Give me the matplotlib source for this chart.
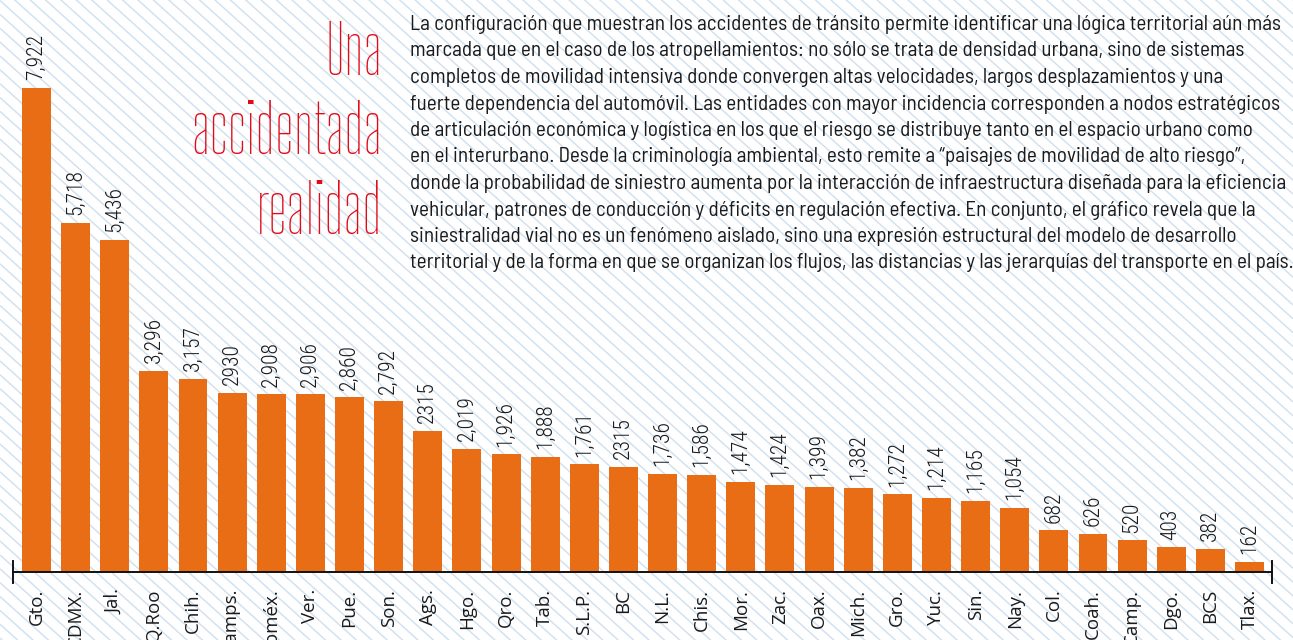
import matplotlib
matplotlib.use("Agg")
import matplotlib.pyplot as plt
from matplotlib.transforms import blended_transform_factory
import numpy as np

# ---------------------------------------------------------------------------
# data
# ---------------------------------------------------------------------------
states = ["Gto.", "CDMX.", "Jal.", "Q.Roo", "Chih.", "Tamps.", "Edoméx.", "Ver.",
          "Pue.", "Son.", "Ags.", "Hgo.", "Qro.", "Tab.", "S.L.P.", "BC",
          "N.L.", "Chis.", "Mor.", "Zac.", "Oax.", "Mich.", "Gro.", "Yuc.",
          "Sin.", "Nay.", "Col.", "Coah.", "Camp.", "Dgo.", "BCS", "Tlax."]

# bar heights as drawn in the source graphic
accidents = [7922, 5718, 5436, 3296, 3157, 2930, 2908, 2906,
             2860, 2792, 2315, 2019, 1926, 1888, 1761, 1725,
             1605, 1586, 1474, 1424, 1399, 1382, 1272, 1214,
             1165, 1054, 682, 626, 520, 403, 382, 162]

# value labels as printed in the source graphic
value_labels = ["7,922", "5,718", "5,436", "3,296", "3,157", "2930", "2,908", "2,906",
                "2,860", "2,792", "2315", "2,019", "1,926", "1,888", "1,761", "2315",
                "1,736", "1,586", "1,474", "1,424", "1,399", "1,382", "1,272", "1,214",
                "1,165", "1,054", "682", "626", "520", "403", "382", "162"]

title_lines = ["Una", "accidentada", "realidad"]

body_lines = [
    "La configuración que muestran los accidentes de tránsito permite identificar una lógica territorial aún más",
    "marcada que en el caso de los atropellamientos: no sólo se trata de densidad urbana, sino de sistemas",
    "completos de movilidad intensiva donde convergen altas velocidades, largos desplazamientos y una",
    "fuerte dependencia del automóvil. Las entidades con mayor incidencia corresponden a nodos estratégicos",
    "de articulación económica y logística en los que el riesgo se distribuye tanto en el espacio urbano como",
    "en el interurbano. Desde la criminología ambiental, esto remite a “paisajes de movilidad de alto riesgo”,",
    "donde la probabilidad de siniestro aumenta por la interacción de infraestructura diseñada para la eficiencia",
    "vehicular, patrones de conducción y déficits en regulación efectiva. En conjunto, el gráfico revela que la",
    "siniestralidad vial no es un fenómeno aislado, sino una expresión estructural del modelo de desarrollo",
    "territorial y de la forma en que se organizan los flujos, las distancias y las jerarquías del transporte en el país.",
]

# ---------------------------------------------------------------------------
# style
# ---------------------------------------------------------------------------
W, H = 1293, 640
orange = "#E86D15"
red = "#E30A17"
ink = "#1a1a1a"
hatch_color = "#d2e2ef"

title_font = ["Big Shoulders Display", "Saira ExtraCondensed", "DejaVu Sans"]
body_font = ["Barlow Semi Condensed", "Roboto Condensed", "DejaVu Sans"]
num_font = ["Roboto Condensed", "DejaVu Sans"]
tick_font = ["Open Sans", "DejaVu Sans"]

fig = plt.figure(figsize=(W / 100, H / 100), dpi=100)
fig.patch.set_facecolor("white")

# background with diagonal stripes, in pixel coordinates
bg = fig.add_axes([0, 0, 1, 1], zorder=0)
bg.set_xlim(0, W)
bg.set_ylim(H, 0)
bg.axis("off")
slope = 0.9
step = 15.4
for c in np.arange(-slope * W, H + step, step * slope):
    bg.plot([0, W], [c, c + slope * W], color=hatch_color, lw=1.1, solid_capstyle="butt")

renderer = fig.canvas.get_renderer()


def fit(txt, target_w):
    w = txt.get_window_extent(renderer).width
    txt.set_fontsize(txt.get_fontsize() * target_w / w)


# title
title_base = [75, 154, 234]
t_probe = bg.text(383, 154, "accidentada", family=title_font, fontweight="normal",
                  fontsize=50, color=red, ha="right", va="baseline")
fit(t_probe, 190)
tsize = t_probe.get_fontsize()
t_probe.remove()
for line, yb in zip(title_lines, title_base):
    bg.text(383, yb, line, family=title_font, fontweight="normal", fontsize=tsize,
            color=red, ha="right", va="baseline")

# paragraph
b_probe = bg.text(410, 0, body_lines[-1], family=body_font, fontsize=14)
fit(b_probe, 880)
bsize = b_probe.get_fontsize()
b_probe.remove()
for i, line in enumerate(body_lines):
    bg.text(410, 30 + i * 26.5, line, family=body_font, fontsize=bsize,
            color=ink, ha="left", va="baseline")

# ---------------------------------------------------------------------------
# bar chart
# ---------------------------------------------------------------------------
left_px, right_px, base_px = 13, 1272, 572
ax = fig.add_axes([left_px / W, (H - base_px) / H, (right_px - left_px) / W, base_px / H], zorder=1)
ax.patch.set_alpha(0)
x = np.arange(len(states))
ax.bar(x, accidents, width=0.74, color=orange, zorder=2)
ax.set_xlim(-0.6, len(states) - 1 + 0.575)
ax.set_ylim(0, base_px / 0.0611)

for xi, v, lab in zip(x, accidents, value_labels):
    ax.annotate(lab, (xi, v), xytext=(0, 5.5), textcoords="offset points",
                rotation=90, ha="center", va="bottom", family=num_font,
                fontweight="light", fontsize=15.5, color=ink)

ax.set_xticks(x)
ax.set_xticklabels(states, rotation=90, family=tick_font, fontsize=13.5, color=ink, va="top")
ax.tick_params(axis="x", length=0, pad=12)
ax.set_yticks([])
for s in ["left", "right", "top"]:
    ax.spines[s].set_visible(False)
ax.spines["bottom"].set_linewidth(1.4)
ax.spines["bottom"].set_color("#111111")

# end ticks of the axis
trans = blended_transform_factory(ax.transData, ax.transAxes)
d = 11 / base_px
for xe in ax.get_xlim():
    ax.plot([xe, xe], [-d, d], transform=trans, color="#111111", lw=1.4, clip_on=False)

fig.savefig("out.png", dpi=100)
